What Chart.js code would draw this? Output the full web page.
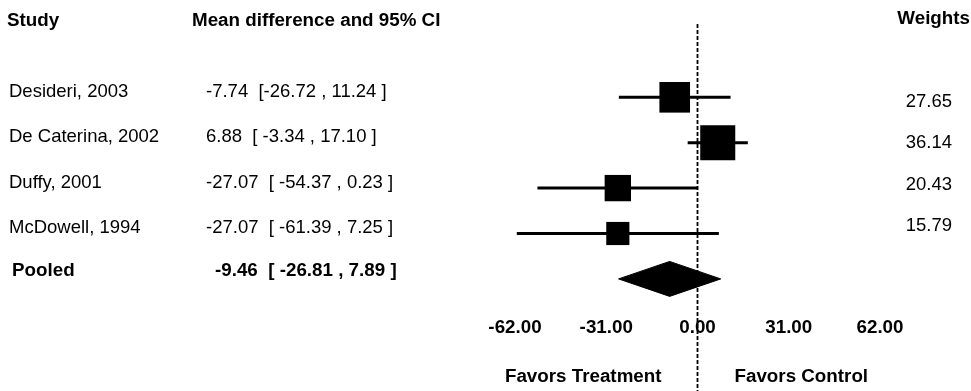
<!DOCTYPE html>
<html>
<head>
<meta charset="utf-8">
<script src="https://cdn.jsdelivr.net/npm/chart.js@4/dist/chart.umd.min.js"></script>
<style>
html,body{margin:0;padding:0;background:#fff;}
#wrap{width:971px;height:391px;position:relative;}
</style>
</head>
<body>
<div id="wrap"><canvas id="c"></canvas></div>
<script>
// ---- data ----
const studies   = ['Desideri, 2003', 'De Caterina, 2002', 'Duffy, 2001', 'McDowell, 1994'];
const meanDiff  = [-7.74, 6.88, -27.07, -27.07];
const ciLower   = [-26.72, -3.34, -54.37, -61.39];
const ciUpper   = [11.24, 17.10, 0.23, 7.25];
const weights   = [27.65, 36.14, 20.43, 15.79];
const ciOpen    = ['[', '[ ', '[ ', '[ '];
const pooledLabel = 'Pooled';
const pooledMean  = -9.46;
const pooledLower = -26.81;
const pooledUpper = 7.89;
const xTicks = [-62, -31, 0, 31, 62];
const headerStudy  = 'Study';
const headerEffect = 'Mean difference and 95% CI';
const headerWeight = 'Weights';
const favorsLeft  = 'Favors Treatment';
const favorsRight = 'Favors Control';

// ---- layout / style ----
const FONT = '"Liberation Sans", Arial, sans-serif';
const FS = 18.5;
const FSB = 18.8;
const pooledRow = studies.length;
const ROW_MIN = -2.143, ROW_MAX = 6.469;
const DIAMOND_HALF = 0.385;
const LINE_TOP = -1.615;

const datasets = [];
// study squares (on top)
datasets.push({
  data: studies.map((s, i) => ({x: meanDiff[i], y: i})),
  showLine: false,
  pointStyle: 'rect',
  pointRadius: ctx => 4.12 * Math.sqrt(weights[ctx.dataIndex]),
  pointBackgroundColor: '#000',
  pointBorderWidth: 0,
  clip: false
});
// pooled diamond
datasets.push({
  data: [
    {x: pooledLower, y: pooledRow},
    {x: pooledMean,  y: pooledRow - DIAMOND_HALF},
    {x: pooledUpper, y: pooledRow},
    {x: pooledMean,  y: pooledRow + DIAMOND_HALF},
    {x: pooledLower, y: pooledRow}
  ],
  showLine: true,
  fill: 'shape',
  backgroundColor: '#000',
  borderColor: '#000',
  borderWidth: 1,
  pointRadius: 0,
  tension: 0,
  clip: false
});
// confidence intervals
studies.forEach((s, i) => {
  datasets.push({
    data: [{x: ciLower[i], y: i}, {x: ciUpper[i], y: i}],
    showLine: true,
    borderColor: '#000',
    borderWidth: 3,
    pointRadius: 0,
    fill: false,
    clip: false
  });
});
// zero reference line
datasets.push({
  data: [{x: 0, y: LINE_TOP}, {x: 0, y: ROW_MAX}],
  showLine: true,
  borderColor: '#000',
  borderWidth: 1.8,
  borderDash: [4, 2],
  pointRadius: 0,
  fill: false,
  clip: false
});

const textPlugin = {
  id: 'forestText',
  afterDraw(chart) {
    const {ctx} = chart;
    const x = chart.scales.x, y = chart.scales.y;
    const normal = `${FS}px ${FONT}`, bold = `bold ${FSB}px ${FONT}`;
    ctx.save();
    ctx.fillStyle = '#000';
    ctx.textBaseline = 'middle';
    ctx.font = bold;
    ctx.textAlign = 'left';
    ctx.fillText(headerStudy, 7, 21);
    ctx.fillText(headerEffect, 192, 21);
    ctx.textAlign = 'right';
    ctx.fillText(headerWeight, 970, 18.5);
    ctx.font = normal;
    studies.forEach((s, i) => {
      const py = y.getPixelForValue(i) - 5.5;
      ctx.textAlign = 'left';
      ctx.fillText(s, 9, py);
      const txt = `${meanDiff[i].toFixed(2)}  ${ciOpen[i]}${ciLower[i].toFixed(2)} , ${ciUpper[i].toFixed(2)} ]`;
      ctx.fillText(txt, 206, py);
      ctx.textAlign = 'right';
      const wy = y.getPixelForValue(0.092 + 0.9165 * i);
      ctx.fillText(weights[i].toFixed(2), 952, wy);
    });
    ctx.font = bold;
    ctx.textAlign = 'left';
    const pp = y.getPixelForValue(pooledRow) - 8;
    ctx.fillText(pooledLabel, 12, pp);
    ctx.fillText(`${pooledMean.toFixed(2)}  [ ${pooledLower.toFixed(2)} , ${pooledUpper.toFixed(2)} ]`, 215, pp);
    const zx = x.getPixelForValue(0);
    ctx.textAlign = 'right';
    ctx.fillText(favorsLeft, zx - 36, 377);
    ctx.textAlign = 'left';
    ctx.fillText(favorsRight, zx + 37, 377);
    ctx.restore();
  }
};

new Chart(document.getElementById('c'), {
  type: 'scatter',
  data: {datasets},
  options: {
    responsive: true,
    maintainAspectRatio: false,
    animation: false,
    events: [],
    layout: {autoPadding: false, padding: {left: 515, right: 91, top: 0, bottom: 0}},
    plugins: {legend: {display: false}, tooltip: {enabled: false}},
    scales: {
      x: {
        type: 'linear',
        min: xTicks[0],
        max: xTicks[xTicks.length - 1],
        position: {y: 4.75},
        grid: {display: false, drawTicks: false},
        border: {display: false},
        afterBuildTicks: s => { s.ticks = xTicks.map(v => ({value: v})); },
        ticks: {
          padding: 3.5,
          autoSkip: false,
          maxRotation: 0,
          color: '#000',
          font: {family: FONT, size: FSB, weight: 'bold'},
          callback: v => Number(v).toFixed(2)
        }
      },
      y: {
        type: 'linear',
        display: false,
        reverse: true,
        min: ROW_MIN,
        max: ROW_MAX
      }
    }
  },
  plugins: [textPlugin]
});
</script>
</body>
</html>
